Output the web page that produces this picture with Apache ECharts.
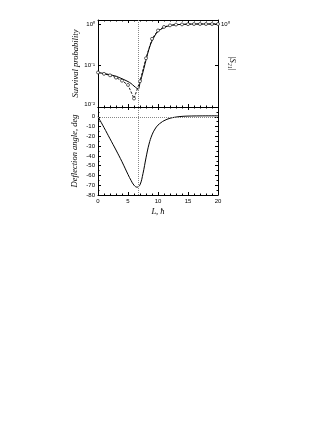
<!DOCTYPE html>
<html>
<head>
<meta charset="utf-8">
<script src="https://cdn.jsdelivr.net/npm/echarts@6/dist/echarts.min.js"></script>
<style>
  html, body { margin: 0; padding: 0; background: #fff; }
  #chart { width: 327px; height: 423px; }
</style>
</head>
<body>
<div id="chart"></div>
<script>
// --- data ---
// survival probability, solid curve
const lSolid = [0, 1, 2, 3, 4, 5, 5.5, 6, 6.5, 6.7, 7, 7.5, 8, 8.5, 9, 9.5, 10, 11, 12, 13, 14, 15, 16, 18, 20];
const pSolid = [0.068, 0.064, 0.06, 0.055, 0.048, 0.041, 0.037, 0.032, 0.028, 0.027, 0.038, 0.07, 0.135, 0.25, 0.39, 0.53, 0.66, 0.82, 0.92, 0.96, 0.98, 0.99, 1, 1, 1];

// survival probability, dashed curve with open markers
const lDash = [0, 1, 2, 3, 4, 5, 6, 7, 8, 9, 10, 11, 12, 13, 14, 15, 16, 17, 18, 19, 20];
const pDash = [0.068, 0.063, 0.058, 0.051, 0.043, 0.034, 0.016, 0.042, 0.15, 0.44, 0.7, 0.85, 0.93, 0.97, 0.98, 0.99, 1, 1, 1, 1, 1];

// deflection angle, deg
const lAngle = [0, 1, 2, 3, 4, 5, 5.5, 6, 6.5, 7, 7.5, 8, 8.5, 9, 9.5, 10, 10.5, 11, 12, 13, 14, 15, 17, 20];
const angle = [0, -11, -22.5, -34, -46, -59, -65, -70, -72, -69.5, -58, -42, -28, -18.5, -12.5, -8.5, -6, -4, -1.5, -0.3, 0.4, 0.7, 0.9, 1];

const markL = 6.67;           // vertical dotted line
const xTicks = [0, 5, 10, 15, 20];
// --- end data ---

const chart = echarts.init(document.getElementById('chart'));

const black = '#000';
const tickFont = { fontFamily: 'Liberation Sans', fontSize: 6, color: black };
const nameFont = { fontFamily: 'Liberation Serif', fontStyle: 'italic', fontSize: 8.5, color: black };
const supMap = { '0': '\u2070', '1': '\u00b9', '2': '\u00b2', '-': '\u207b' };

const logLabel = (v) => {
  const e = Math.log10(v);
  const r = Math.round(e);
  if (Math.abs(e - r) > 1e-6) return '';
  return '10' + String(r).split('').map(c => supMap[c]).join('');
};

const xAxisBase = (grid, pos, labels) => ({
  type: 'value',
  gridIndex: grid,
  position: pos,
  min: xTicks[0],
  max: xTicks[xTicks.length - 1],
  interval: xTicks[1] - xTicks[0],
  axisLine: { onZero: false, lineStyle: { color: black, width: 1 } },
  axisTick: { inside: true, length: 3, lineStyle: { color: black } },
  minorTick: { show: true, splitNumber: 5, length: 1.5, lineStyle: { color: black } },
  splitLine: { show: false },
  axisLabel: { show: labels, margin: 3, ...tickFont }
});

const option = {
  backgroundColor: '#fff',
  animation: false,
  grid: [
    { left: 98, top: 20, width: 120, height: 87 },
    { left: 98, top: 107, width: 120, height: 88 }
  ],
  xAxis: [
    xAxisBase(0, 'bottom', false),
    xAxisBase(0, 'top', false),
    {
      ...xAxisBase(1, 'bottom', true),
      name: 'L, \u0127',
      nameLocation: 'middle',
      nameGap: 12,
      nameTextStyle: nameFont
    },
    xAxisBase(1, 'top', false)
  ],
  yAxis: [
    {
      type: 'log',
      gridIndex: 0,
      position: 'left',
      min: 0.01,
      max: 1.25,
      logBase: 10,
      axisLine: { onZero: false, lineStyle: { color: black } },
      axisTick: { inside: true, length: 3, lineStyle: { color: black } },
      splitLine: { show: false },
      axisLabel: { margin: 3, formatter: logLabel, ...tickFont, verticalAlignMinLabel: 'bottom' },
      name: 'Survival probability',
      nameLocation: 'middle',
      nameGap: 17,
      nameTextStyle: nameFont
    },
    {
      type: 'log',
      gridIndex: 0,
      position: 'right',
      min: 0.01,
      max: 1.25,
      logBase: 10,
      axisLine: { onZero: false, lineStyle: { color: black } },
      axisTick: { inside: true, length: 3, lineStyle: { color: black } },
      splitLine: { show: false },
      axisLabel: { margin: 3, formatter: (v) => (Math.abs(Math.log10(v)) < 1e-6 ? logLabel(v) : ''), ...tickFont },
      name: '|S\u2082\u2081|',
      nameLocation: 'middle',
      nameRotate: -90,
      nameGap: 10,
      nameMoveOverlap: false,
      nameTextStyle: nameFont
    },
    {
      type: 'value',
      gridIndex: 1,
      position: 'left',
      min: -80,
      max: 10,
      interval: 10,
      axisLine: { onZero: false, lineStyle: { color: black } },
      axisTick: { inside: true, length: 3, lineStyle: { color: black } },
      minorTick: { show: true, splitNumber: 2, length: 1.5, lineStyle: { color: black } },
      splitLine: { show: false },
      axisLabel: { margin: 3, formatter: (v) => (v > 0 ? '' : String(v)), ...tickFont },
      name: 'Deflection angle, deg',
      nameLocation: 'middle',
      nameGap: 19,
      nameTextStyle: nameFont
    },
    {
      type: 'value',
      gridIndex: 1,
      position: 'right',
      min: -80,
      max: 10,
      interval: 10,
      axisLine: { onZero: false, lineStyle: { color: black } },
      axisTick: { inside: true, length: 3, lineStyle: { color: black } },
      minorTick: { show: true, splitNumber: 2, length: 1.5, lineStyle: { color: black } },
      splitLine: { show: false },
      axisLabel: { show: false }
    }
  ],
  series: [
    {
      type: 'line',
      xAxisIndex: 0,
      yAxisIndex: 0,
      data: lSolid.map((l, i) => [l, pSolid[i]]),
      smooth: 0.4,
      showSymbol: false,
      lineStyle: { color: black, width: 1 },
      markLine: {
        silent: true,
        symbol: 'none',
        label: { show: false },
        lineStyle: { color: '#888', type: 'dotted', width: 1 },
        data: [{ xAxis: markL }]
      }
    },
    {
      type: 'line',
      xAxisIndex: 0,
      yAxisIndex: 0,
      data: lDash.map((l, i) => [l, pDash[i]]),
      symbol: 'circle',
      symbolSize: 3,
      itemStyle: { color: '#fff', borderColor: black, borderWidth: 0.6 },
      lineStyle: { color: black, width: 0.9, type: [2.5, 1.5] }
    },
    {
      type: 'line',
      xAxisIndex: 2,
      yAxisIndex: 2,
      data: lAngle.map((l, i) => [l, angle[i]]),
      smooth: 0.4,
      showSymbol: false,
      lineStyle: { color: black, width: 1 },
      markLine: {
        silent: true,
        symbol: 'none',
        label: { show: false },
        lineStyle: { color: '#888', type: 'dotted', width: 1 },
        data: [{ xAxis: markL }, { yAxis: 0 }]
      }
    }
  ]
};

chart.setOption(option);
</script>
</body>
</html>
